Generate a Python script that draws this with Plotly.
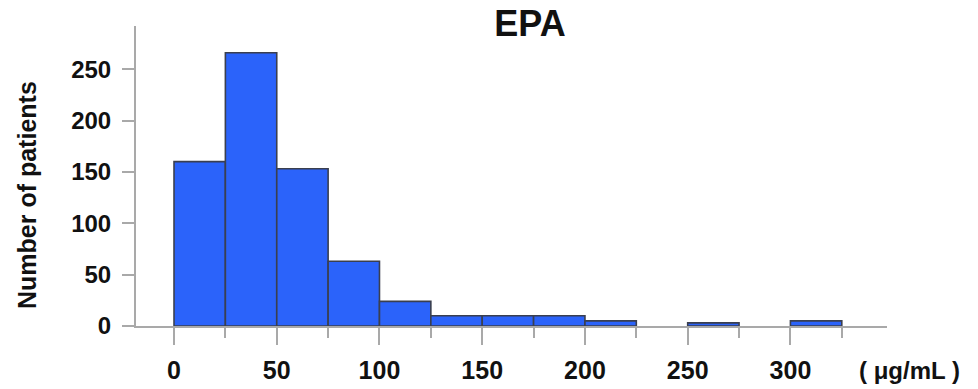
import plotly.graph_objects as go

bin_starts = [0, 25, 50, 75, 100, 125, 150, 175, 200, 225, 250, 275, 300]
counts = [160, 266, 153, 63, 24, 10, 10, 10, 5, 0, 3, 0, 5]
bin_width = 25
x_ticks = [0, 50, 100, 150, 200, 250, 300]
y_ticks = [0, 50, 100, 150, 200, 250]

W, H = 978, 389
L, R, T, B = 136, 91, 26, 63

# only bins that hold patients are drawn
shown = [(s + bin_width / 2, c) for s, c in zip(bin_starts, counts) if c > 0]
centers = [p[0] for p in shown]
heights = [p[1] for p in shown]

fig = go.Figure(go.Bar(
    x=centers, y=heights, width=bin_width,
    marker=dict(color="#2B63FA", line=dict(color="#3a3f4f", width=1.6)),
))

font_fam = "Liberation Sans, Arial, sans-serif"
y_tick_font = dict(family=font_fam, size=24, color="#111", weight=700)
x_tick_font = dict(family=font_fam, size=25, color="#111", weight=700)

fig.update_layout(
    width=W, height=H,
    margin=dict(l=L, r=R, t=T, b=B, pad=0),
    paper_bgcolor="white", plot_bgcolor="white",
    showlegend=False,
    title=dict(text="EPA", x=530 / W, xanchor="center", y=1 - 23 / H, yanchor="middle",
               yref="container", automargin=False,
               font=dict(family=font_fam, size=36, color="#111", weight=700)),
    xaxis=dict(range=[-18.5, 347], tickvals=x_ticks, ticks="outside", ticklen=17, tickwidth=2,
               tickcolor="#a9a9a9", showline=True, linecolor="#a9a9a9", linewidth=2,
               showgrid=False, zeroline=False, tickfont=x_tick_font, ticklabelstandoff=4,
               automargin=False,
               minor=dict(tickvals=[25, 75, 125, 175, 225, 275, 325], ticks="outside",
                          ticklen=10, tickwidth=2, tickcolor="#a9a9a9", showgrid=False)),
    yaxis=dict(range=[0, 292], tickvals=y_ticks, ticks="outside", ticklen=12, tickwidth=2,
               tickcolor="#a9a9a9", showline=True, linecolor="#a9a9a9", linewidth=2,
               showgrid=False, zeroline=False, tickfont=y_tick_font, ticklabelstandoff=6,
               automargin=False),
    annotations=[
        dict(text="Number of patients", textangle=-90, xref="paper", yref="paper",
             x=(27 - L) / (W - L - R), y=(326 - 195) / 300,
             xanchor="center", yanchor="middle", showarrow=False,
             font=dict(family=font_fam, size=25, color="#111", weight=700)),
        dict(text="( μg/mL )", xref="paper", yref="paper",
             x=(909 - L) / (W - L - R), y=(326 - 370) / 300,
             xanchor="center", yanchor="middle", showarrow=False,
             font=dict(family=font_fam, size=24, color="#111", weight=700)),
    ],
)

fig.write_html("out.html")
